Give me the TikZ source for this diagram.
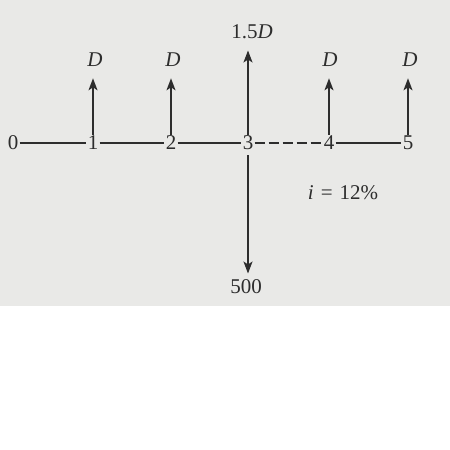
\documentclass[tikz,border=0pt]{standalone}
\usepackage{fontspec}
\setmainfont{Liberation Serif}
\usetikzlibrary{arrows.meta, positioning}
\definecolor{photo}{RGB}{233,233,231}
\definecolor{ink}{RGB}{45,45,45}

\begin{document}
\begin{tikzpicture}[
  x=0.5pt, y=-0.5pt,
  tpoint/.style={inner sep=0.5pt, font=\fontsize{10.5}{12}\selectfont, text=ink},
  flow/.style={inner sep=1pt, font=\fontsize{10.5}{12}\selectfont, text=ink},
  axis/.style={draw=ink, line width=0.75pt},
  cash/.style={draw=ink, line width=0.8pt, ->, shorten >=4.5pt},
  >={Stealth[length=6pt, width=4.5pt, inset=1.5pt]}
]
  \useasboundingbox (0,0) rectangle (450,450);
  \fill[photo] (0,0) rectangle (450,306);

  % time axis
  \node[tpoint] (t0) at (13,143) {0};
  \node[tpoint] (t1) at (93,143) {1};
  \node[tpoint] (t2) at (171,143) {2};
  \node[tpoint] (t3) at (248,143) {3};
  \node[tpoint] (t4) at (329,143) {4};
  \node[tpoint] (t5) at (408,143) {5};

  \draw[axis] (t0) -- (t1);
  \draw[axis] (t1) -- (t2);
  \draw[axis] (t2) -- (t3);
  \draw[axis, dash pattern=on 5pt off 2pt] (t3) -- (t4);
  \draw[axis] (t4) -- (t5);

  % receipts
  \node[flow] (d1) at (95,60) {\textit{D}};
  \node[flow] (d2) at (173,60) {\textit{D}};
  \node[flow] (d3) at (252,32) {1.5\textit{D}};
  \node[flow] (d4) at (330,60) {\textit{D}};
  \node[flow] (d5) at (410,60) {\textit{D}};

  \draw[cash] (t1) -- (t1 |- d1.south);
  \draw[cash] (t2) -- (t2 |- d2.south);
  \draw[cash] (t3) -- (t3 |- d3.south);
  \draw[cash] (t4) -- (t4 |- d4.south);
  \draw[cash] (t5) -- (t5 |- d5.south);

  % payment
  \node[flow] (p3) at (246,287) {500};
  \draw[cash, shorten <=2pt, shorten >=2pt] (t3) -- (t3 |- p3.north);

  \node[flow] (rate) at (343,193) {\textit{i}\hspace{3.5pt}=\hspace{3.5pt}12\%};
\end{tikzpicture}
\end{document}
